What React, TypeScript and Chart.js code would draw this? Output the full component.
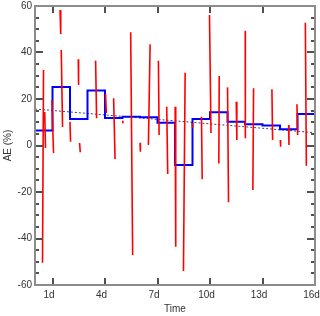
import { useEffect, useRef } from 'react';
import { Chart, registerables } from 'chart.js';

Chart.register(...registerables);

// Red AE series (time in days); null separates measured segments
const redT: (number | null)[] = [
  0.487, 0.429, null, 0.555, 0.601, null, 0.967, 1.059, null, 1.431, 1.471, null,
  1.5, 1.574, null, 1.998, 2.032, null, 2.473, 2.49, null, 2.547, 2.587, null,
  3.463, 3.52, null, 4.03, 4.076, null, 4.493, 4.574, null, 5.009, 5.031, null,
  5.467, 5.581, null, 6.005, 6.022, null, 6.577, 6.48, null, 7.052, 7.092, null,
  7.527, 7.584, null, 8.008, 8.042, null, 8.58, 8.483, null, 8.981, 9.01, null,
  9.513, 9.554, null, 9.971, 10.057, null, 10.527, 10.504, null, 11.002, 11.059, null,
  11.5, 11.534, null, 12.015, 12.02, null, 12.49, 12.45, null, 13.538, 13.578, null,
  14.018, 14.035, null, 14.493, 14.511, null, 14.968, 15.009, null, 15.449, 15.506,
];
const redAE: (number | null)[] = [
  32.5, -50.4, null, 14.4, -1.1, null, 19.6, -3.2, null, 58.3, 48.0, null,
  41.1, 8.0, null, 10.2, 1.6, null, 37.1, 26.0, null, 1.1, -2.9, null,
  36.5, 11.7, null, 22.2, 14.0, null, 20.3, -5.8, null, 10.7, 9.5, null,
  48.7, -47.1, null, 1.2, -2.7, null, 43.5, 0.2, null, 36.5, 4.5, null,
  16.7, -12.3, null, 16.7, -43.5, null, 31.3, -54.0, null, 9.7, 7.5, null,
  12.4, -14.5, null, 56.1, 5.4, null, 29.9, -7.7, null, 25.0, -24.4, null,
  18.8, 2.4, null, 49.4, 3.1, null, 24.6, -19.1, null, 24.2, 2.4, null,
  2.4, -0.5, null, 8.8, 0.2, null, 17.7, 4.5, null, 52.8, -8.7,
];

// Daily mean AE (blue step line)
const stepT = [0, 1, 2, 3, 4, 5, 6, 7, 8, 9, 10, 11, 12, 13, 14, 15, 16];
const stepAE = [6.5, 25.2, 11.4, 23.7, 11.8, 12.4, 12.1, 9.8, -8.4, 11.4, 14.3, 10.2, 9.1, 8.6, 7.0, 13.5, 13.5];

// Linear trend (dotted)
const trendT = [0, 16];
const trendAE = [15.7, 5.5];

const xTicks = [1, 4, 7, 10, 13, 16];
const yTicks = [-60, -40, -20, 0, 20, 40, 60];

const FONT = 'Liberation Sans, Arial, Helvetica, sans-serif';

const framePlugin = {
  id: 'frameTicks',
  afterDraw(chart: any) {
    const ctx: CanvasRenderingContext2D = chart.ctx;
    const ca = chart.chartArea;
    const xs = chart.scales['x'];
    const ys = chart.scales['y'];
    const L = Math.round(ca.left), R = Math.round(ca.right), T = Math.round(ca.top), B = Math.round(ca.bottom);
    ctx.save();
    ctx.fillStyle = '#505050';
    for (let i = 0; i < xTicks.length; i++) {
      const px = Math.round(xs.getPixelForValue(xTicks[i]));
      ctx.fillRect(px - 1, B - 7, 2, 7);
      ctx.fillRect(px - 1, T, 2, 7);
    }
    for (let v = -60; v <= 60; v += 5) {
      const py = Math.round(ys.getPixelForValue(v));
      const len = Math.abs(v) % 20 === 0 ? 8 : 4;
      ctx.fillRect(L, py - 1, len, 2);
      ctx.fillRect(R - len, py - 1, len, 2);
    }
    ctx.fillStyle = '#8c8c8c';
    ctx.fillRect(L - 1, T - 1, R - L + 2, 2);
    ctx.fillRect(L - 1, B - 1, R - L + 2, 2);
    ctx.fillRect(L - 1, T - 1, 2, B - T + 2);
    ctx.fillRect(R - 1, T - 1, 2, B - T + 2);
    ctx.restore();
  },
};

export default function App() {
  const ref = useRef<HTMLCanvasElement>(null);
  useEffect(() => {
    document.body.style.margin = '0';
    const redData: { x: number; y: number | null }[] = [];
    let lastX = 0;
    for (let i = 0; i < redT.length; i++) {
      const t = redT[i];
      if (t === null) redData.push({ x: lastX, y: null });
      else { lastX = t; redData.push({ x: t, y: redAE[i] }); }
    }
    const chart = new Chart(ref.current!, {
      type: 'line',
      data: {
        datasets: [
          { label: 'AE', data: redData as any, borderColor: 'rgb(255,0,0)', borderWidth: 1.6, pointRadius: 0, spanGaps: false },
          { label: 'Daily', data: stepT.map((t, i) => ({ x: t, y: stepAE[i] })), borderColor: 'rgb(0,0,255)', borderWidth: 2, pointRadius: 0, stepped: true },
          { label: 'Trend', data: trendT.map((t, i) => ({ x: t, y: trendAE[i] })), borderColor: '#404070', borderWidth: 1, borderDash: [2, 2], pointRadius: 0 },
        ],
      },
      options: {
        animation: false,
        responsive: false,
        devicePixelRatio: 1,
        layout: { padding: { left: 0, right: 5, top: 6, bottom: 0 } },
        plugins: { legend: { display: false }, tooltip: { enabled: false } },
        scales: {
          x: {
            type: 'linear', min: 0, max: 16,
            grid: { display: false, drawTicks: false },
            border: { display: false },
            afterBuildTicks: (s: any) => { s.ticks = xTicks.map((v) => ({ value: v })); },
            afterFit: (s: any) => { s.height = 31; s.paddingLeft = 0; s.paddingRight = 0; },
            ticks: { autoSkip: false, maxRotation: 0, padding: 4, labelOffset: -3.5, color: '#333', font: { family: FONT, size: 10 }, callback: (v: any) => `${v}d` },
            title: { display: true, text: 'Time', color: '#333', font: { family: FONT, size: 10 }, padding: { top: 0, bottom: 1 } },
          },
          y: {
            type: 'linear', min: -60, max: 60,
            grid: { display: false, drawTicks: false },
            border: { display: false },
            afterBuildTicks: (s: any) => { s.ticks = yTicks.map((v) => ({ value: v })); },
            afterFit: (s: any) => { s.width = 35; s.paddingTop = 0; s.paddingBottom = 0; },
            ticks: { autoSkip: false, padding: 3, color: '#333', font: { family: FONT, size: 10 } },
            title: { display: true, text: 'AE (%)', color: '#333', font: { family: FONT, size: 10 }, padding: { top: 2, bottom: 0 } },
          },
        },
      },
      plugins: [framePlugin],
    });
    return () => chart.destroy();
  }, []);
  return (
    <div style={{ position: 'absolute', left: 0, top: 0, width: 320, height: 316 }}>
      <canvas ref={ref} width={320} height={316} />
    </div>
  );
}
